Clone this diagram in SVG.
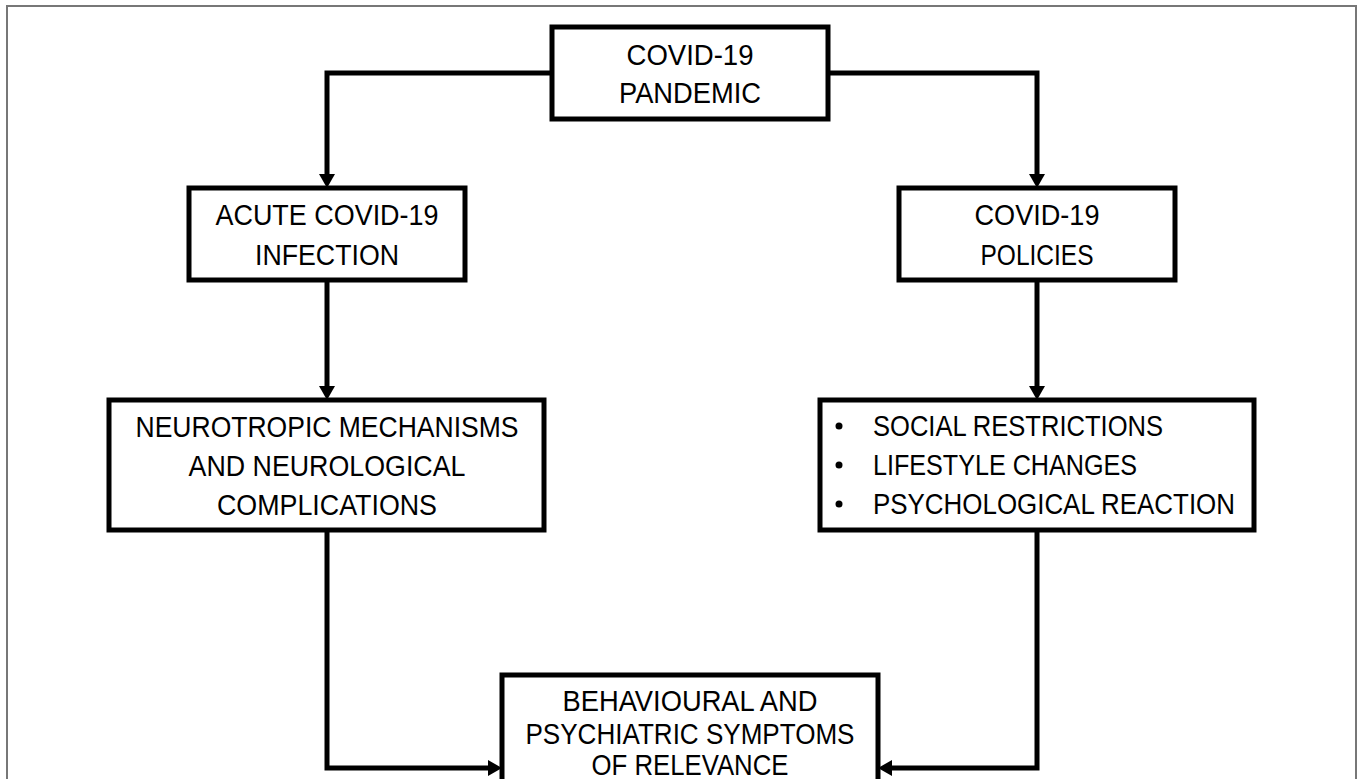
<svg xmlns="http://www.w3.org/2000/svg" width="1360" height="779" viewBox="0 0 1360 779">
<style>
.box{fill:#fff;stroke:#000;stroke-width:5}
.lbl{font-family:"Liberation Sans",Arial,sans-serif;font-size:29px;fill:#000;text-anchor:middle}
.lft{font-family:"Liberation Sans",Arial,sans-serif;font-size:29px;fill:#000;text-anchor:start}
.con{fill:none;stroke:#000;stroke-width:5}
.frame{fill:none;stroke:#777;stroke-width:2}
</style>
<defs>
<marker id="arr" markerUnits="userSpaceOnUse" markerWidth="14" markerHeight="16" refX="6" refY="8" orient="auto">
<path d="M0,0 L14,8 L0,16 z" fill="#000"/>
</marker>
</defs>
<rect width="1360" height="779" fill="#fff"/>
<path class="frame" d="M7,779 V6 H1356 V779"/>
<g id="connectors">
<path class="con" d="M550,73 H327 V180" marker-end="url(#arr)"/>
<path class="con" d="M830,73 H1037 V180" marker-end="url(#arr)"/>
<path class="con" d="M327,280 V392" marker-end="url(#arr)"/>
<path class="con" d="M1037,280 V392" marker-end="url(#arr)"/>
<path class="con" d="M327,530 V768 H494" marker-end="url(#arr)"/>
<path class="con" d="M1037,530 V768 H886" marker-end="url(#arr)"/>
</g>
<g id="n-pandemic">
<rect class="box" x="552" y="27" width="276" height="92"/>
<text class="lbl" x="690" y="65" textLength="127" lengthAdjust="spacingAndGlyphs">COVID-19</text>
<text class="lbl" x="690" y="103" textLength="142" lengthAdjust="spacingAndGlyphs">PANDEMIC</text>
</g>
<g id="n-acute">
<rect class="box" x="189" y="188" width="276" height="92"/>
<text class="lbl" x="327" y="225" textLength="223" lengthAdjust="spacingAndGlyphs">ACUTE COVID-19</text>
<text class="lbl" x="327" y="265" textLength="144" lengthAdjust="spacingAndGlyphs">INFECTION</text>
</g>
<g id="n-policies">
<rect class="box" x="899" y="188" width="276" height="92"/>
<text class="lbl" x="1037" y="225" textLength="125" lengthAdjust="spacingAndGlyphs">COVID-19</text>
<text class="lbl" x="1037" y="265" textLength="113" lengthAdjust="spacingAndGlyphs">POLICIES</text>
</g>
<g id="n-neuro">
<rect class="box" x="109" y="400" width="435" height="130"/>
<text class="lbl" x="327" y="437" textLength="383" lengthAdjust="spacingAndGlyphs">NEUROTROPIC MECHANISMS</text>
<text class="lbl" x="327" y="476" textLength="277" lengthAdjust="spacingAndGlyphs">AND NEUROLOGICAL</text>
<text class="lbl" x="327" y="515" textLength="220" lengthAdjust="spacingAndGlyphs">COMPLICATIONS</text>
</g>
<g id="n-effects">
<rect class="box" x="820" y="400" width="434" height="130"/>
<circle cx="839" cy="426" r="3.5" fill="#000"/>
<circle cx="839" cy="465" r="3.5" fill="#000"/>
<circle cx="839" cy="504" r="3.5" fill="#000"/>
<text class="lft" x="873" y="436" textLength="290" lengthAdjust="spacingAndGlyphs">SOCIAL RESTRICTIONS</text>
<text class="lft" x="873" y="475" textLength="264" lengthAdjust="spacingAndGlyphs">LIFESTYLE CHANGES</text>
<text class="lft" x="873" y="514" textLength="362" lengthAdjust="spacingAndGlyphs">PSYCHOLOGICAL REACTION</text>
</g>
<g id="n-symptoms">
<rect class="box" x="502" y="675" width="376" height="130"/>
<text class="lbl" x="690" y="711" textLength="255" lengthAdjust="spacingAndGlyphs">BEHAVIOURAL AND</text>
<text class="lbl" x="690" y="744" textLength="329" lengthAdjust="spacingAndGlyphs">PSYCHIATRIC SYMPTOMS</text>
<text class="lbl" x="690" y="775" textLength="197" lengthAdjust="spacingAndGlyphs">OF RELEVANCE</text>
</g>
</svg>
